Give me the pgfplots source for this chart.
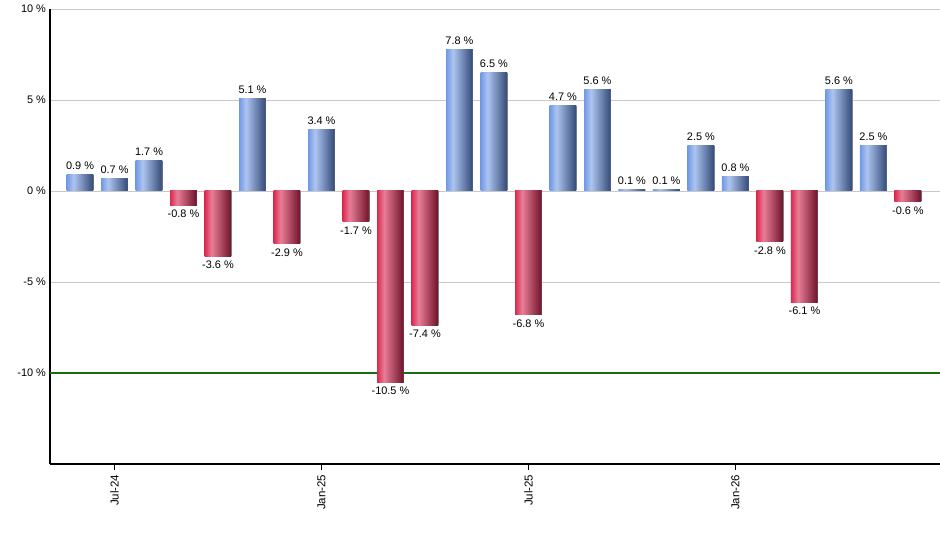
\documentclass[border=0pt]{standalone}
\usepackage{pgfplots}
\pgfplotsset{compat=1.18}
\usepackage{fontspec}
\setmainfont{Liberation Sans}

% cylinder-like horizontal shadings for the bars
\pgfdeclarehorizontalshading{barblue}{100bp}{%
  rgb(0bp)=(0.44,0.60,0.90); rgb(25bp)=(0.44,0.60,0.90);
  rgb(38bp)=(0.68,0.77,0.94); rgb(73bp)=(0.22,0.31,0.49);
  rgb(74bp)=(0.50,0.50,0.52); rgb(100bp)=(0.50,0.50,0.52)}
\pgfdeclarehorizontalshading{barred}{100bp}{%
  rgb(0bp)=(0.86,0.16,0.31); rgb(25bp)=(0.86,0.16,0.31);
  rgb(38bp)=(0.91,0.49,0.59); rgb(73bp)=(0.45,0.09,0.18);
  rgb(74bp)=(0.50,0.50,0.52); rgb(100bp)=(0.50,0.50,0.52)}

\definecolor{gridgray}{RGB}{200,200,200}
\definecolor{refgreen}{RGB}{20,110,20}

\pgfplotsset{
  up/.style={draw=none, shade, shading=barblue,
    every node near coord/.append style={anchor=south}},
  down/.style={draw=none, shade, shading=barred,
    every node near coord/.append style={anchor=north}},
}

\begin{document}
\begin{tikzpicture}[x=0.75pt,y=0.75pt]
\useasboundingbox (-50,-86) rectangle (890,464);
\begin{axis}[
  at={(0,0)}, anchor=south west,
  scale only axis,
  width=667.5pt, height=341.25pt,
  xmin=-0.87, xmax=24.93,
  ymin=-15, ymax=10,
  axis lines*=left,
  axis line style={black, line width=0.9pt, -},
  ymajorgrids, grid style={gridgray, line width=0.7pt},
  ytick={-10,-5,0,5,10},
  yticklabels={-10 \%,-5 \%,0 \%,5 \%,10 \%},
  ytick style={draw=none},
  xtick={1,7,13,19},
  xticklabels={Jul-24,Jan-25,Jul-25,Jan-26},
  x tick label style={rotate=90, anchor=east, font=\fontsize{8.6}{10}\selectfont},
  y tick label style={font=\fontsize{8.2}{10}\selectfont, xshift=5pt},
  xtick style={black, line width=0.9pt},
  tick align=outside,
  major tick length=4.5pt,
  ybar, bar width=0.78, bar shift=0pt,
  point meta=explicit symbolic,
  nodes near coords={\pgfplotspointmeta~\%},
  every node near coord/.append style={font=\fontsize{8.2}{10}\selectfont, black},
  clip=false,
]
% -10 % reference line
\addplot[refgreen, line width=0.9pt, no markers, sharp plot, nodes near coords={}] coordinates {(-0.87,-10) (24.93,-10)};
% monthly returns, Jun-24 (0) to Jun-26 (24), one bar per plot so each is shaded on its own
\addplot[up]   coordinates {(0,0.9) [0.9]};
\addplot[up]   coordinates {(1,0.7) [0.7]};
\addplot[up]   coordinates {(2,1.7) [1.7]};
\addplot[down] coordinates {(3,-0.8) [-0.8]};
\addplot[down] coordinates {(4,-3.6) [-3.6]};
\addplot[up]   coordinates {(5,5.1) [5.1]};
\addplot[down] coordinates {(6,-2.9) [-2.9]};
\addplot[up]   coordinates {(7,3.4) [3.4]};
\addplot[down] coordinates {(8,-1.7) [-1.7]};
\addplot[down] coordinates {(9,-10.5) [-10.5]};
\addplot[down] coordinates {(10,-7.4) [-7.4]};
\addplot[up]   coordinates {(11,7.8) [7.8]};
\addplot[up]   coordinates {(12,6.5) [6.5]};
\addplot[down] coordinates {(13,-6.8) [-6.8]};
\addplot[up]   coordinates {(14,4.7) [4.7]};
\addplot[up]   coordinates {(15,5.6) [5.6]};
\addplot[up]   coordinates {(16,0.1) [0.1]};
\addplot[up]   coordinates {(17,0.1) [0.1]};
\addplot[up]   coordinates {(18,2.5) [2.5]};
\addplot[up]   coordinates {(19,0.8) [0.8]};
\addplot[down] coordinates {(20,-2.8) [-2.8]};
\addplot[down] coordinates {(21,-6.1) [-6.1]};
\addplot[up]   coordinates {(22,5.6) [5.6]};
\addplot[up]   coordinates {(23,2.5) [2.5]};
\addplot[down] coordinates {(24,-0.6) [-0.6]};
\end{axis}
\end{tikzpicture}
\end{document}
